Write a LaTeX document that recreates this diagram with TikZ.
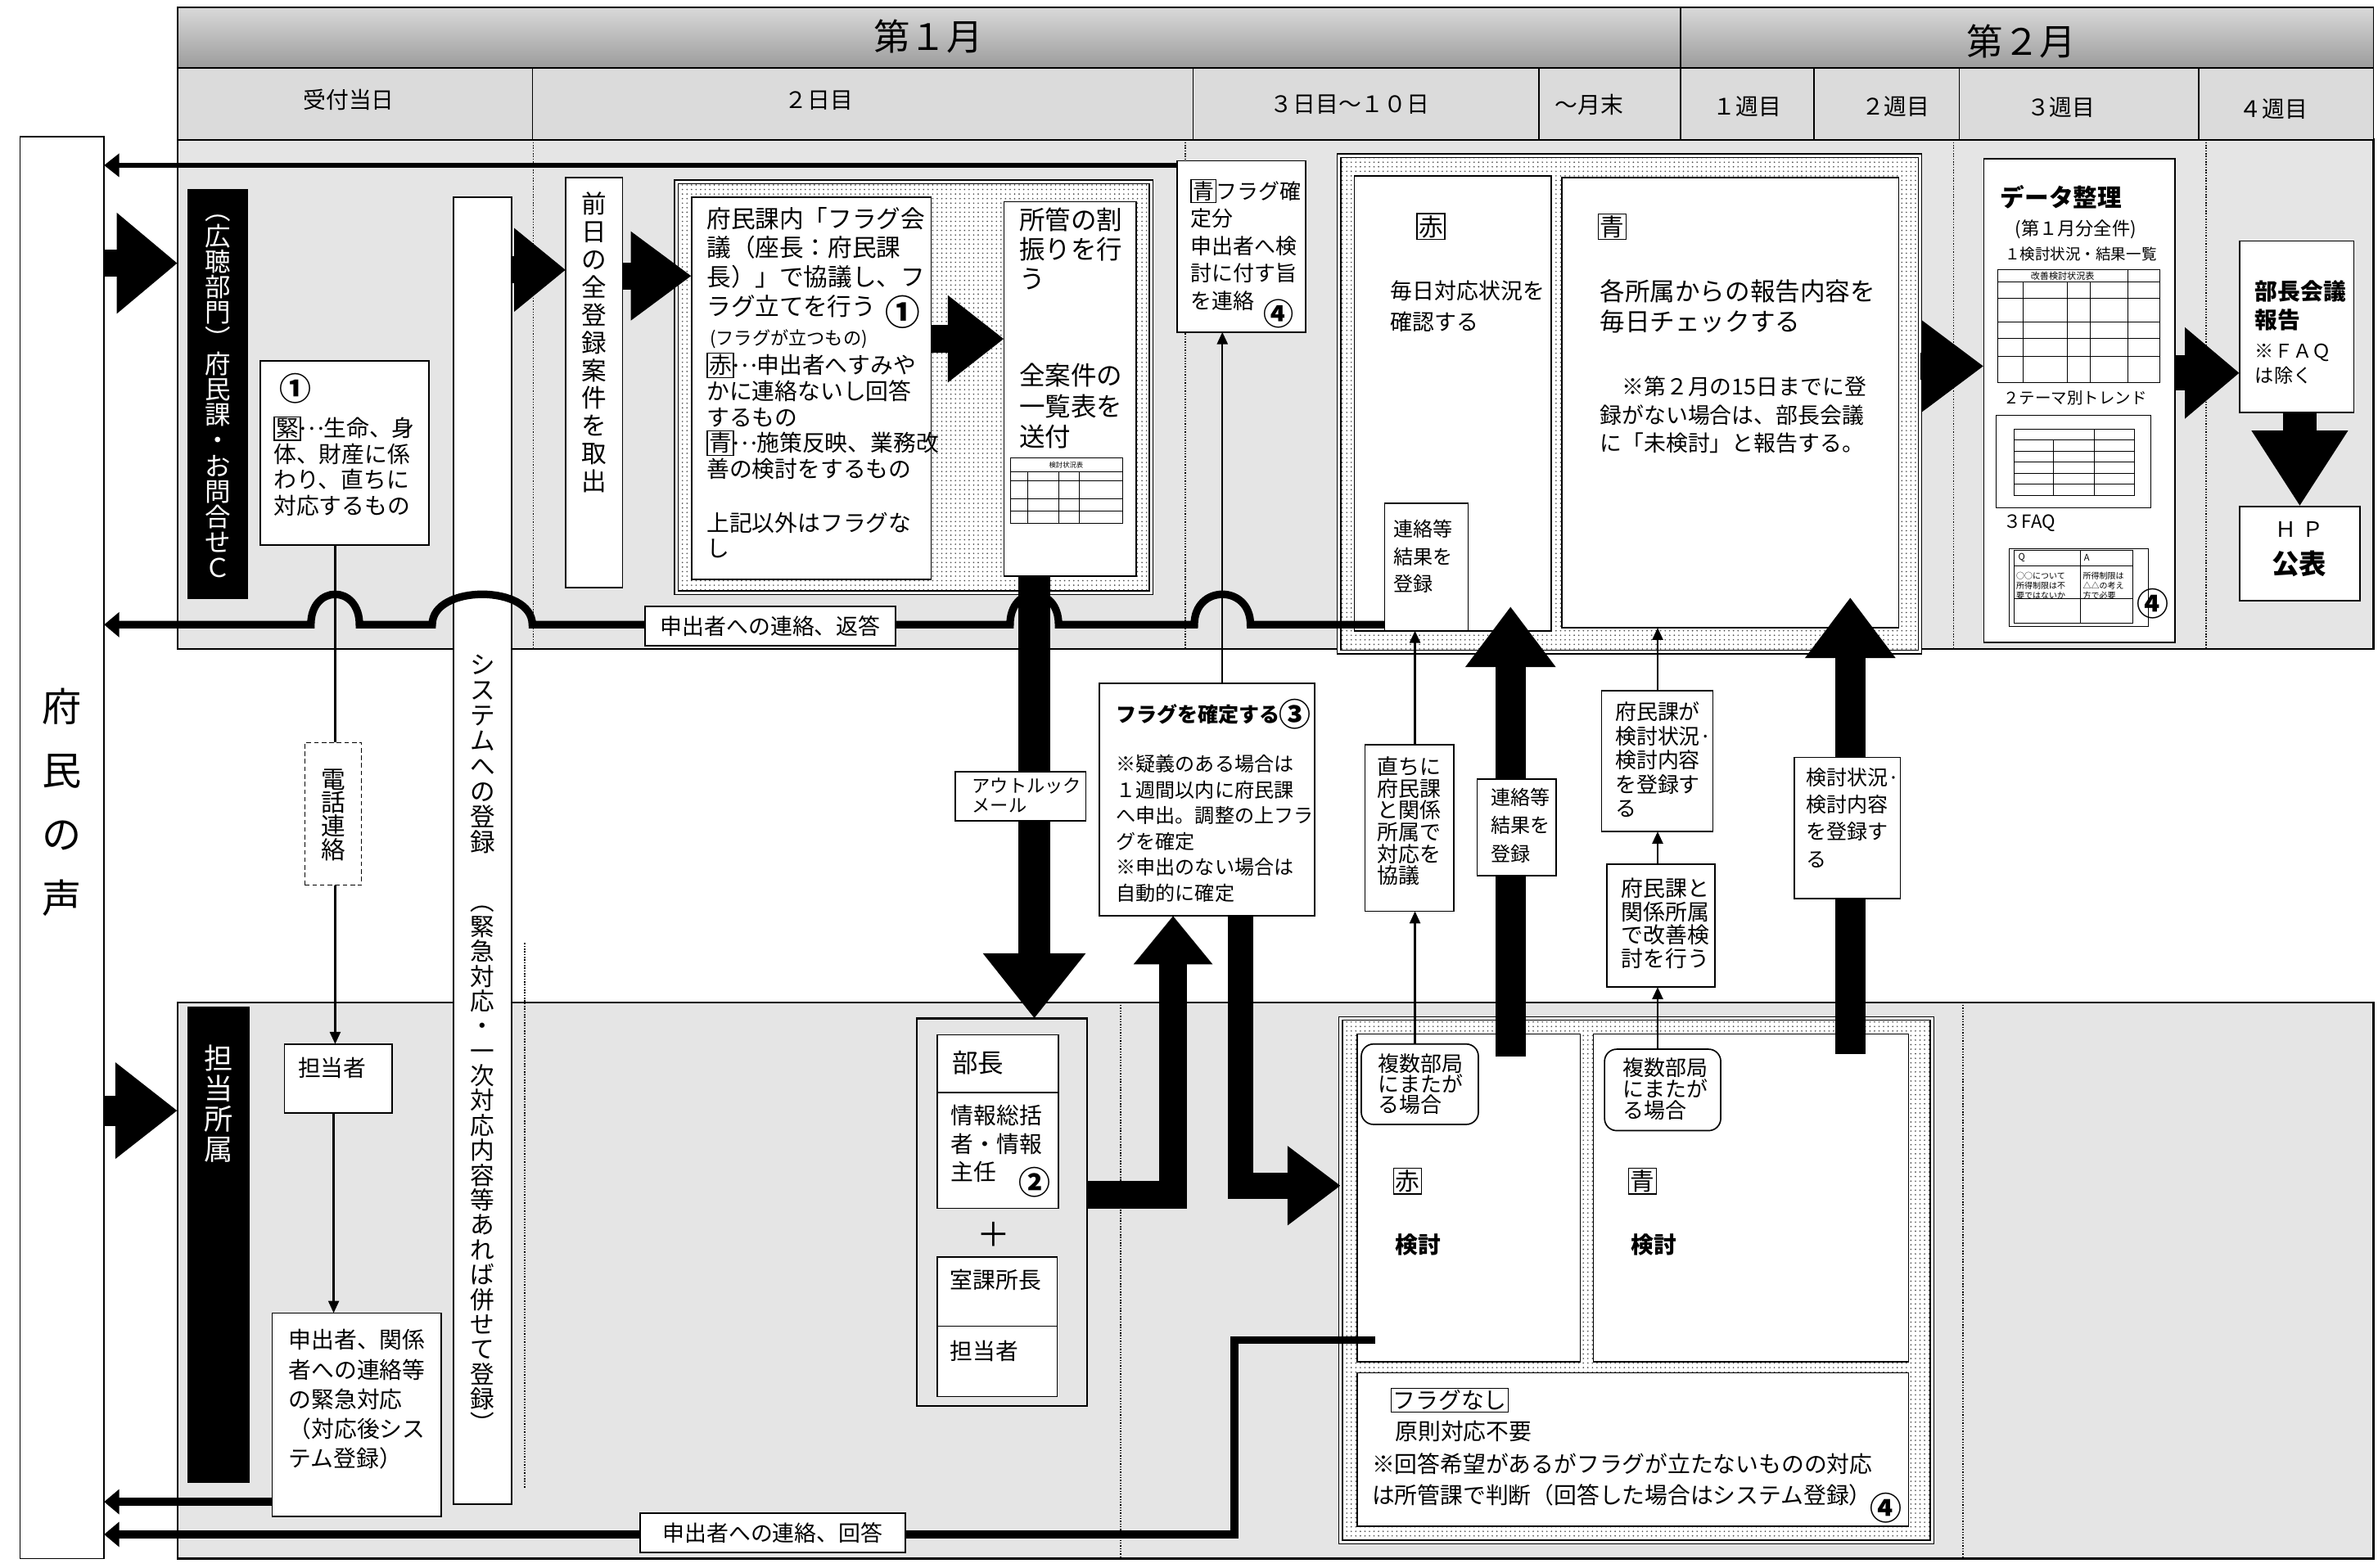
\documentclass[tikz,border=0pt]{standalone}
\usepackage{fontspec}
\setmainfont{Noto Sans CJK JP}
\usetikzlibrary{arrows.meta,patterns}
\newcommand\fsz[2]{\fontsize{#1}{#2}\selectfont}
\newcounter{tn}
\newcommand\kbox[1]{{\setlength\fboxsep{0.8pt}\setlength\fboxrule{0.7pt}\fbox{#1}}}
\newcommand\eli{\makebox[1em][c]{\raisebox{0.3em}{.\kern0.12em.\kern0.12em.}}}
\newcommand\RB[6][rbox]{\node[#1,minimum width={#4-#2},minimum height={#5-#3}] (#6) at (#2,#3) {};}
\newcommand\TX[6][]{\stepcounter{tn}\node[tx,font=\fsz{#4}{#5},#1] (t\arabic{tn}) at (#2,{#3-#4/2}) {\rule{0pt}{0.88em}#6};}
\newcommand\VT[6][]{\stepcounter{tn}\node[vt,font=\fsz{#4}{#5},#1] (t\arabic{tn}) at (#2,{#3-#4/2}) {\rule{0pt}{0.88em}#6};}
\newcommand\CT[5][]{\stepcounter{tn}\node[cx,font=\fsz{#4}{#4},#1] (t\arabic{tn}) at (#2,#3) {#5};}
\tikzset{
 rbox/.style={draw,fill=white,line width=0.9pt,inner sep=0pt,outer sep=0pt,anchor=north west},
 lane/.style={rbox,fill=gray!20,line width=1.2pt},
 hdr/.style={rbox,fill=gray!28,line width=1pt},
 topband/.style={rbox,top color=gray!30,bottom color=gray!78,line width=1pt},
 blackbox/.style={fill=black,inner sep=0pt,outer sep=0pt,anchor=north west},
 frm/.style={draw,line width=1.4pt,inner sep=0pt,outer sep=0pt,anchor=north west},
 band/.style={draw,line width=0.8pt,double,double distance=1.6pt,preaction={fill=white},pattern=dots,pattern color=black!70,inner sep=0pt,outer sep=0pt,anchor=north west},
 tx/.style={anchor=north west,inner sep=0pt,outer sep=0pt,align=left},
 vt/.style={anchor=north,inner sep=0pt,outer sep=0pt,align=center},
 cx/.style={anchor=center,inner sep=0pt,outer sep=0pt},
 circ/.style={font=\fsz{21}{21}\bfseries},
 blk/.style={line width=18pt,-{Triangle[length=38pt,width=56pt]}},
 thinarr/.style={line width=1.3pt,-{Triangle[length=8pt,width=7pt]}},
 retline/.style={line width=5pt,line join=miter,-{Triangle[length=10pt,width=16pt]}},
 dotl/.style={densely dotted,line width=0.8pt},
 tl/.style={line width=0.4pt}
}
\begin{document}
\begin{tikzpicture}[x=1pt,y=-1pt]
\useasboundingbox (0,0) rectangle (1568,1034);
\fill[white] (0,0) rectangle (1568,1034);
% lanes
\RB[lane]{117}{92}{1565}{428}{laneU}
\RB[lane]{117}{661}{1565}{1028}{laneL}
% header
\RB[topband]{117}{5}{1108}{45}{m1}
\RB[topband]{1108}{5}{1565}{45}{m2}
\RB[hdr]{117}{45}{1565}{92}{hrow}
\foreach \xx in {351.2,786.7,1014.7,1196,1291.8,1449.8} \draw[line width=0.8pt] (\xx,45) -- (\xx,92);
\draw[line width=1.4pt] (1108,45) -- (1108,92);
\CT{612}{24}{24}{第１月}
\CT{1333}{27}{24}{第２月}
\CT{230}{66}{15}{受付当日}
\CT{540}{66}{15}{２日目}
\CT{890}{69}{15}{３日目～１０日}
\CT{1048}{69}{15}{～月末}
\CT{1152}{70}{15}{１週目}
\CT{1250}{70}{15}{２週目}
\CT{1359}{71}{15}{３週目}
\CT{1499}{72}{15}{４週目}
% dotted column lines
\draw[dotl] (351.6,92) -- (351.6,428);
\draw[dotl] (781.6,92) -- (781.6,428);
\draw[dotl] (1288,92) -- (1288,428);
\draw[dotl] (1454.6,92) -- (1454.6,428);
\draw[dotl] (346,622) -- (346,981);
\draw[dotl] (738.8,661) -- (738.8,1028);
\draw[dotl] (1294.3,661) -- (1294.3,1028);
% left column
\RB{13.2}{90}{68.6}{1028}{koe}
\VT{40.9}{466}{26}{42}{府\\民\\の\\声}
\RB[blackbox]{123.6}{124.7}{163.5}{394.9}{lab1}
\VT[text=white]{143.5}{138.7}{17}{16.85}{︵\\広\\聴\\部\\門\\︶\\府\\民\\課\\・\\お\\問\\合\\せ\\Ｃ}
\RB[blackbox]{123.4}{664}{164.6}{978}{lab2}
\VT[text=white]{144}{698}{19}{20}{担\\当\\所\\属}
\draw[blk,-{Triangle[length=40pt,width=64pt]}] (koe.east |- 0,173.6) -- (laneU.west |- 0,173.6);
\draw[blk,line width=20pt,-{Triangle[length=41pt,width=61pt]}] (koe.east |- 0,732.5) -- (laneL.west |- 0,732.5);
% upper lane boxes
\RB{171.8}{238}{283}{359.6}{kin}
\CT[circ]{194.6}{256}{21}{①}
\TX{180.5}{282}{15}{17}{\kbox{緊}\eli 生命、身\\体、財産に係\\わり、直ちに\\対応するもの}
\RB{299}{130}{337.5}{992}{sys}
\VT{318.2}{438}{16.5}{16.8}{シ\\ス\\テ\\ム\\へ\\の\\登\\録}
\VT{318.2}{594.6}{16}{16.4}{︵\\緊\\急\\対\\応\\・\\一\\次\\対\\応\\内\\容\\等\\あ\\れ\\ば\\併\\せ\\て\\登\\録\\︶}
\RB{373}{117}{410.5}{387.4}{zen}
\VT{391.7}{134.4}{16.5}{18.3}{前\\日\\の\\全\\登\\録\\案\\件\\を\\取\\出}
% frame 1
\RB[band]{446}{120}{759}{391}{fr1}
\RB{456}{130}{614}{382}{ftxt}
\RB{662}{133}{749}{380}{shokan}
\TX{466}{144}{16}{19.3}{府民課内「フラグ会\\議（座長：府民課\\長）」で協議し、フ\\ラグ立てを行う}
\CT[circ,font=\fsz{23}{23}\bfseries]{595.4}{206}{23}{①}
\TX{468}{223}{12}{12}{(フラグが立つもの)}
\TX{466}{240}{15}{17.1}{\kbox{赤}\eli 申出者へすみや\\かに連絡ないし回答\\するもの\\\kbox{青}\eli 施策反映、業務改\\善の検討をするもの}
\TX{466}{345}{15}{16.6}{上記以外はフラグな\\し}
\TX{672}{145}{17}{19.3}{所管の割\\振りを行\\う}
\TX{672}{247.7}{17}{20.1}{全案件の\\一覧表を\\送付}
\draw[tl] (666,302) rectangle (740,345);
\foreach \yy in {311,317,329,337} \draw[tl] (666,\yy) -- (740,\yy);
\foreach \xx in {677.5,698,711.5} \draw[tl] (\xx,311) -- (\xx,345);
\CT{703}{306.5}{4.5}{検討状況表}
% blue flag box
\RB{776}{106}{861}{219}{aoF}
\TX{785}{125}{14}{18.1}{\kbox{青}フラグ確\\定分\\申出者へ検\\討に付す旨\\を連絡}
\CT[circ,font=\fsz{20}{20}\bfseries]{843}{207}{20}{④}
% upper big frame
\RB[band]{883}{102.6}{1266}{430}{frU}
\RB{893}{116}{1023}{416}{akaU}
\RB{1030}{117}{1252}{414}{aoU}
\CT{943.5}{149.5}{16}{\kbox{赤}}
\TX{917}{192}{14.5}{20.4}{毎日対応状況を\\確認する}
\CT{1063}{149.5}{16}{\kbox{青}}
\TX{1055}{192}{16.5}{20}{各所属からの報告内容を\\毎日チェックする}
\TX{1055}{255}{14.5}{18.7}{\hspace{1em}※第２月の15日までに登\\録がない場合は、部長会議\\に「未検討」と報告する。}
\RB{913}{332}{968}{416}{renU}
\TX{919}{349}{13}{18}{連絡等\\結果を\\登録}
% data
\RB{1308}{104.6}{1434}{423.7}{data}
\TX[font=\fsz{16}{16}\bfseries]{1319}{130}{16}{16}{データ整理}
\TX{1328.6}{150.5}{12}{12}{(第１月分全件)}
\TX{1322}{167.6}{10}{10}{１検討状況・結果一覧}
\draw[tl] (1317,178) rectangle (1424,252);
\foreach \yy in {185.7,196.5,212.4,223,234.8} \draw[tl] (1317,\yy) -- (1424,\yy);
\foreach \xx in {1334,1363,1378} \draw[tl] (\xx,185.7) -- (\xx,252);
\draw[tl] (1403,178) -- (1403,252);
\CT{1360}{182}{6}{改善検討状況表}
\TX{1321}{262.5}{10.5}{10.5}{２テーマ別トレンド}
\draw[tl] (1316,274) rectangle (1418,335);
\draw[tl] (1328,282.8) rectangle (1407.5,326.6);
\foreach \yy in {290.1,297.4,304.7,312,319.3} \draw[tl] (1328,\yy) -- (1407.5,\yy);
\draw[tl] (1354,290.1) -- (1354,326.6);
\draw[tl] (1381,282.8) -- (1381,326.6);
\TX{1321}{343.7}{12}{12}{３FAQ}
\draw[tl] (1324.8,361.8) rectangle (1416.5,413);
\draw[tl] (1328,363) rectangle (1406,411);
\draw[tl] (1328,373) -- (1406,373);
\draw[tl] (1328,395) -- (1406,395);
\draw[tl] (1371.6,363) -- (1371.6,411);
\CT{1333}{368}{6}{Q}
\CT{1376}{368}{6}{A}
\TX{1329.5}{380}{5.4}{6.3}{○○について\\所得制限は不\\要ではないか}
\TX{1373.5}{380}{5.4}{6.3}{所得制限は\\△△の考え\\方で必要}
\CT[circ]{1419.3}{398}{21}{④}
\RB{1476.6}{159}{1552}{272}{bkai}
\TX[font=\fsz{15}{19}\bfseries]{1487}{192}{15}{19}{部長会議\\報告}
\TX{1487}{231.6}{12.5}{16}{※ＦＡＱ\\は除く}
\RB{1476.6}{334}{1556}{396}{hp}
\CT{1516}{349}{14}{Ｈ\hspace{4pt}Ｐ}
\CT[font=\fsz{18}{18}\bfseries]{1516}{372}{18}{公表}
% middle: flag confirm
\RB{725}{450.7}{867}{604}{flag3}
\TX[font=\fsz{13.5}{14}\bfseries]{736}{471.4}{13.5}{14}{フラグを確定する}
\CT[circ]{854}{471}{21}{③}
\TX{736}{503.8}{13}{17}{※疑義のある場合は\\１週間以内に府民課\\へ申出。調整の上フラ\\グを確定\\※申出のない場合は\\自動的に確定}
% lower lane
\RB{187.5}{688.6}{258.5}{734}{tan1}
\CT{219}{704.5}{15}{担当者}
\RB{179.5}{866}{291}{1000}{moushi}
\TX{190.4}{883.8}{15}{19.5}{申出者、関係\\者への連絡等\\の緊急対応\\（対応後シス\\テム登録）}
\RB[frm]{604.5}{671.7}{716.8}{927.2}{bfr}
\RB{618}{682.6}{697.8}{720.6}{bucho}
\TX{628}{700.7}{17}{17}{部長}
\RB{618}{720.6}{697.8}{797}{joho}
\TX{627}{735.6}{15}{18.7}{情報総括\\者・情報\\主任}
\CT[circ]{682}{780}{21}{②}
\CT{655}{814}{22}{＋}
\RB{618}{829}{697}{874.6}{shitsu}
\TX{626.6}{844}{15}{15}{室課所長}
\RB{618}{874.6}{697}{921}{tan2}
\TX{626.6}{891}{15}{15}{担当者}
% lower big frame
\RB[band]{884}{671.7}{1274}{1017}{frL}
\RB{895}{682}{1042}{898}{akaL}
\RB{1050.6}{682}{1258.5}{898}{aoL}
\RB{895}{905.5}{1258.5}{1006.7}{nofl}
\RB[rbox,rounded corners=8pt]{897.6}{688.6}{974.8}{741.6}{fuk1}
\TX{908.8}{701.7}{14}{13.4}{複数部局\\にまたが\\る場合}
\RB[rbox,rounded corners=8pt]{1058}{692}{1134.6}{745.7}{fuk2}
\TX{1070}{704.2}{14}{13.9}{複数部局\\にまたが\\る場合}
\CT{928}{779}{16}{\kbox{赤}}
\CT[font=\fsz{15}{15}\bfseries]{935}{821}{15}{検討}
\CT{1083}{779}{16}{\kbox{青}}
\CT[font=\fsz{15}{15}\bfseries]{1090.6}{821}{15}{検討}
\CT{956}{923.5}{15}{\kbox{フラグなし}}
\TX{920}{944}{15}{15}{原則対応不要}
\TX{904.7}{965.6}{15}{20.4}{※回答希望があるがフラグが立たないものの対応\\は所管課で判断（回答した場合はシステム登録）}
\CT[circ]{1243.4}{994.6}{21}{④}
\coordinate (nfc) at (906.6,884);
% block arrows
\draw[blk,-{Triangle[length=34pt,width=53pt]}] (sys.east |- 0,178) -- (zen.west |- 0,178);
\draw[blk,-{Triangle[length=40pt,width=56pt]}] (zen.east |- 0,182) -- (ftxt.west |- 0,182);
\draw[blk,-{Triangle[length=37pt,width=55pt]}] (ftxt.east |- 0,223.5) -- (shokan.west |- 0,223.5);
\draw[blk,-{Triangle[length=41pt,width=58pt]}] (frU.east |- 0,241.5) -- (data.west |- 0,241.5);
\draw[blk,line width=23pt,-{Triangle[length=36pt,width=58pt]}] (data.east |- 0,246) -- (bkai.west |- 0,246);
\draw[blk,line width=22pt,-{Triangle[length=50pt,width=60pt]}] (bkai.south -| 1516.4,0) -- (hp.north -| 1516.4,0);
% thick arrows
\draw[line width=21pt,-{Triangle[length=43pt,width=65pt]}] (shokan.south -| 682,0) -- (bfr.north -| 682,0);
\draw[line width=18pt,line join=miter,-{Triangle[length=32pt,width=50pt]}] (bfr.east |- 0,788) -- (773.5,788) -- (flag3.south -| 773.5,0);
\draw[line width=17pt,line join=miter,-{Triangle[length=35pt,width=50pt]}] (flag3.south -| 818,0) -- (818,782) -- (frL.west |- 0,782);
\draw[line width=20pt,-{Triangle[length=40pt,width=57pt]},shorten <=-15pt,shorten >=-16pt] (akaL.north -| 996,0) -- (akaU.south -| 996,0);
\draw[line width=20pt,-{Triangle[length=40pt,width=57pt]},shorten <=-13pt,shorten >=-20pt] (aoL.north -| 1220,0) -- (aoU.south -| 1220,0);
% boxes on arrows
\RB{630}{509}{716}{541.5}{outl}
\TX{641}{518}{12}{13}{アウトルック\\メール}
\RB{900}{491}{958.6}{601}{tada}
\TX{908}{505.6}{14}{14.4}{直ちに\\府民課\\と関係\\所属で\\対応を\\協議}
\RB{974}{514}{1026}{577.5}{renM}
\TX{983}{526}{13}{18.5}{連絡等\\結果を\\登録}
\RB{1056}{455.6}{1129.5}{548.4}{fmn1}
\TX{1065}{469.6}{14}{15.9}{府民課が\\検討状況·\\検討内容\\を登録す\\る}
\RB{1059.6}{570}{1130.8}{651}{fmn2}
\TX{1069}{585.6}{14.5}{15.6}{府民課と\\関係所属\\で改善検\\討を行う}
\RB{1183}{499.6}{1253}{592.7}{kento}
\TX{1191}{512.8}{13.5}{17.9}{検討状況·\\検討内容\\を登録す\\る}
% thin arrows
\draw[thinarr] (kin.south -| 221,0) -- (tan1.north -| 221,0);
\draw[thinarr] (tan1.south -| 220,0) -- (moushi.north -| 220,0);
\draw[thinarr] (flag3.north -| 806,0) -- (aoF.south -| 806,0);
\draw[thinarr] (fuk1.north -| 933,0) -- (tada.south -| 933,0);
\draw[thinarr] (fuk2.north -| 1093,0) -- (fmn2.south -| 1093,0);
\draw[thinarr] (tada.north -| 933,0) -- (renU.south -| 933,0);
\draw[thinarr] (fmn2.north -| 1093,0) -- (fmn1.south -| 1093,0);
\draw[thinarr] (fmn1.north -| 1093,0) -- (aoU.south -| 1093,0);
% phone label drawn over its arrow
\RB[rbox,densely dashed,line width=0.6pt]{201}{489.7}{238.5}{583.8}{tel}
\VT{219.8}{513.7}{16}{15.6}{電\\話\\連\\絡}
% return lines
\draw[line width=3.5pt,-{Triangle[length=10pt,width=15pt]}] (aoF.west |- 0,109) -- (koe.east |- 0,109);
\draw[retline] (renU.west |- 0,412) -- (824.5,412) .. controls (824.5,385.3) and (787.5,385.3) .. (787.5,412) -- (698,412) .. controls (698,385.3) and (666,385.3) .. (666,412) -- (351,412) .. controls (351,385.3) and (285,385.3) .. (285,412) -- (237,412) .. controls (237,385.3) and (205,385.3) .. (205,412) -- (koe.east |- 0,412);
\draw[retline] (nfc) -- (814,884) -- (814,1012) -- (koe.east |- 0,1012);
\draw[retline] (moushi.west |- 0,990.5) -- (koe.east |- 0,990.5);
\RB{425.5}{400}{590.5}{426}{lblU}
\CT{508}{413}{14.5}{申出者への連絡、返答}
\RB{422}{998}{597}{1024}{lblL}
\CT{509.5}{1011}{14.5}{申出者への連絡、回答}
\end{tikzpicture}
\end{document}
